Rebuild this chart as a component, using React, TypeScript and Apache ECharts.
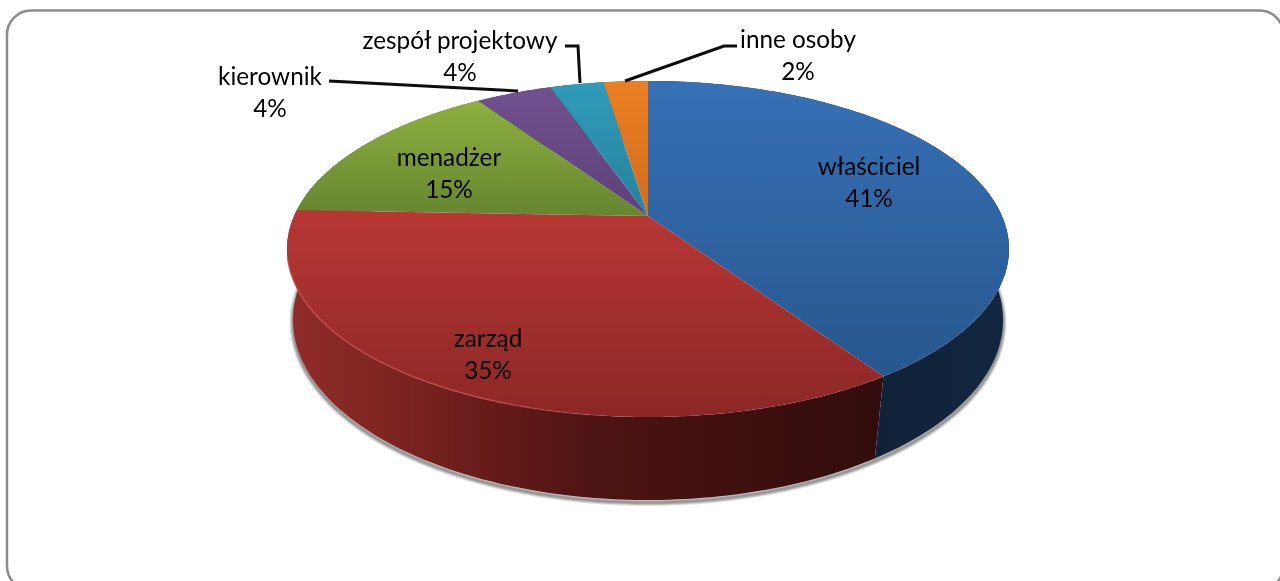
import React, { useEffect, useRef } from "react";
import * as echarts from "echarts";

const categories = ["właściciel", "zarząd", "menadżer", "kierownik", "zespół projektowy", "inne osoby"];
const values = [40.6, 35.0, 15.0, 4.1, 2.9, 2.4];
const percentLabels = ["41%", "35%", "15%", "4%", "4%", "2%"];

// styles: [face top, face bottom]
const faceColors = [
  ["#3670b6", "#27578d"],
  ["#b83735", "#8b2725"],
  ["#8eb03f", "#668530"],
  ["#71508f", "#5d4178"],
  ["#2f9cba", "#27819c"],
  ["#ec7f24", "#cf6d1d"],
];
const wallStops: [number, string][][] = [
  [[0, "#102238"], [1, "#12263f"]],
  [[0, "#8f2b28"], [0.18, "#7c2421"], [0.37, "#621a18"], [0.52, "#4c1413"], [0.7, "#421110"], [1, "#320c0c"]],
  [[0, "#4d6420"], [1, "#4d6420"]],
  [[0, "#3a2850"], [1, "#3a2850"]],
  [[0, "#17505f"], [1, "#17505f"]],
  [[0, "#8a4a12"], [1, "#8a4a12"]],
];
const labelCenters = [
  [869, 165],
  [488, 337],
  [449, 156],
  [270, 75],
  [460, 39],
  [798, 38],
];
const leaders = [
  null,
  null,
  null,
  [[329, 81], [518, 91]],
  [[565, 46], [578, 46], [580, 83]],
  [[737, 46], [724, 46], [625, 81]],
];

type Disc = { cx: number; apex: number; k: number; a: number; b: number };
function disc(cx: number, cy: number, rx: number, ry: number, k: number): Disc {
  return { cx, apex: cy + k * ry, k, a: ry * (1 - k * k), b: rx * Math.sqrt(1 - k * k) };
}
const TOP = disc(648, 249, 361, 168, -0.196);
const BOTTOM = disc(648, 320, 355, 180, -0.17);

function project(d: Disc, angle: number): [number, number] {
  const u = Math.sin(angle);
  const v = -Math.cos(angle);
  const den = 1 + d.k * v;
  return [d.cx + (d.b * u) / den, d.apex + (d.a * v) / den];
}
function arcPoints(d: Disc, a0: number, a1: number, step = 0.01): [number, number][] {
  const n = Math.max(2, Math.ceil((a1 - a0) / step));
  const pts: [number, number][] = [];
  for (let i = 0; i <= n; i++) pts.push(project(d, a0 + ((a1 - a0) * i) / n));
  return pts;
}
function bbox(pts: number[][]) {
  const xs = pts.map((p) => p[0]);
  const ys = pts.map((p) => p[1]);
  const x0 = Math.min(...xs);
  const y0 = Math.min(...ys);
  return { x0, y0, x1: Math.max(...xs), y1: Math.max(...ys) };
}

const total = values.reduce((s, v) => s + v, 0);
const starts: number[] = [];
values.reduce((s, v, i) => {
  starts[i] = s;
  return s + v;
}, 0);
const toAngle = (v: number) => (v / total) * Math.PI * 2;
const FONT = "Lato, sans-serif";
const FONT_SIZE = 24.3;

function wallElement(i: number, a0: number, a1: number) {
  const t = arcPoints(TOP, a0, a1, 0.02);
  const b = arcPoints(BOTTOM, a0, a1, 0.02);
  let d = "";
  for (let j = 0; j + 1 < t.length; j++) {
    const q = [t[j], t[j + 1], b[j + 1], b[j]];
    d += "M" + q.map((p) => p[0].toFixed(2) + " " + p[1].toFixed(2)).join("L") + "Z";
  }
  const box = bbox(t.concat(b));
  return {
    type: "path",
    shape: {
      pathData: d,
      x: box.x0,
      y: box.y0,
      width: box.x1 - box.x0,
      height: box.y1 - box.y0,
      layout: "cover",
    },
    style: {
      fill: {
        type: "linear",
        global: true,
        x: i === 1 ? 293 : 876,
        y: 0,
        x2: i === 1 ? 876 : 1005,
        y2: 0,
        colorStops: wallStops[i].map(([offset, color]) => ({ offset, color })),
      },
    },
  };
}

function faceElement(i: number, a0: number, a1: number) {
  const pts = [[TOP.cx, TOP.apex] as [number, number]].concat(arcPoints(TOP, a0, a1));
  const box = bbox(pts);
  return {
    type: "polygon",
    shape: { points: pts },
    style: {
      fill: {
        type: "linear",
        global: true,
        x: 0,
        y: box.y0,
        x2: 0,
        y2: box.y1,
        colorStops: [
          { offset: 0, color: faceColors[i][0] },
          { offset: 1, color: faceColors[i][1] },
        ],
      },
    },
  };
}

function shadowElements() {
  const pts = arcPoints(BOTTOM, 0, Math.PI * 2, 0.03);
  return [7, 5, 3.5, 2].map((w) => ({
    type: "polygon",
    y: 2.5,
    shape: { points: pts },
    style: { fill: "rgba(0,0,0,0)", stroke: "rgba(0,0,0,0.12)", lineWidth: w },
  }));
}

export default function App() {
  const ref = useRef<HTMLDivElement>(null);
  useEffect(() => {
    const chart = echarts.init(ref.current!, null, { renderer: "svg" });
    const data = values.map((v, i) => ({ value: [i, v], name: categories[i] }));
    chart.setOption({
      animation: false,
      graphic: [
        {
          type: "rect",
          shape: { x: 7, y: 10.5, width: 1276.5, height: 579.5, r: 24 },
          style: { fill: "#fff", stroke: "#8c8c8c", lineWidth: 2.5 },
          z: -10,
        },
      ],
      series: [
        {
          type: "custom",
          coordinateSystem: "none",
          silent: true,
          data,
          renderItem: (_p: any, api: any) => {
            const i = api.value(0) as number;
            const v = api.value(1) as number;
            const a0 = toAngle(starts[i]);
            const a1 = a0 + toAngle(v);
            const children: any[] = i === 0 ? shadowElements() : [];
            children.push(wallElement(i, a0, a1));
            return { type: "group", children };
          },
          z: 1,
        },
        {
          type: "custom",
          coordinateSystem: "none",
          silent: true,
          data,
          renderItem: (_p: any, api: any) => {
            const i = api.value(0) as number;
            const v = api.value(1) as number;
            const a0 = toAngle(starts[i]);
            const a1 = a0 + toAngle(v);
            const children: any[] = [faceElement(i, a0, a1)];
            if (i === 1) {
              children.push({
                type: "polyline",
                shape: { points: arcPoints(TOP, Math.PI * 1.04, Math.PI * 1.42) },
                style: {
                  fill: "none",
                  lineWidth: 1.5,
                  stroke: {
                    type: "linear",
                    global: true,
                    x: 287,
                    y: 0,
                    x2: 640,
                    y2: 0,
                    colorStops: [
                      { offset: 0, color: "rgba(201,82,78,0.7)" },
                      { offset: 0.6, color: "rgba(201,82,78,0.7)" },
                      { offset: 1, color: "rgba(201,82,78,0)" },
                    ],
                  },
                },
              });
            }
            return { type: "group", children };
          },
          z: 2,
        },
        {
          type: "custom",
          coordinateSystem: "none",
          silent: true,
          data,
          renderItem: (_p: any, api: any) => {
            const i = api.value(0) as number;
            const children: any[] = [];
            const [x, y] = labelCenters[i];
            const line = leaders[i];
            if (line) {
              children.push({
                type: "polyline",
                shape: { points: line },
                style: { fill: "none", stroke: "#0d0d0d", lineWidth: 3 },
              });
            }
            children.push({
              type: "text",
              style: {
                x,
                y,
                text: categories[i],
                fill: "#000",
                font: FONT_SIZE + "px " + FONT,
                textAlign: "center",
                textVerticalAlign: "middle",
              },
            });
            children.push({
              type: "text",
              style: {
                x,
                y: y + 32,
                text: percentLabels[i],
                fill: "#000",
                font: FONT_SIZE + "px " + FONT,
                textAlign: "center",
                textVerticalAlign: "middle",
              },
            });
            return { type: "group", children };
          },
          z: 3,
        },
      ],
    });
    return () => chart.dispose();
  }, []);
  return <div ref={ref} style={{ position: "fixed", left: 0, top: 0, width: 1280, height: 581 }} />;
}
